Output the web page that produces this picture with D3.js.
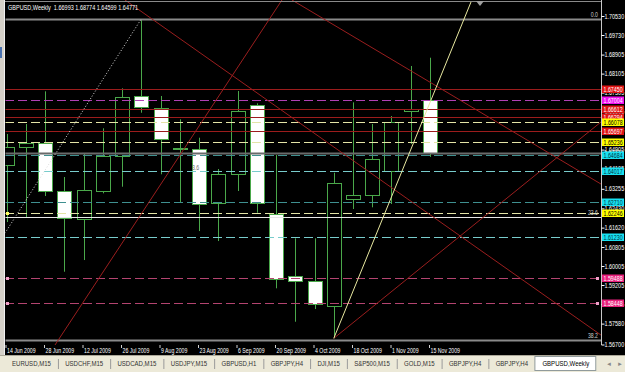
<!DOCTYPE html>
<html>
<head>
<meta charset="utf-8">
<script src="https://cdn.jsdelivr.net/npm/d3@7"></script>
<style>
html, body { margin: 0; padding: 0; background: #000; overflow: hidden; }
svg { display: block; }
text { font-family: "Liberation Sans", Arial, sans-serif; }
</style>
</head>
<body>
<script>
// weekly GBPUSD candles
const WEEKS = ["14 Jun 2009", "21 Jun 2009", "28 Jun 2009", "5 Jul 2009", "12 Jul 2009", "19 Jul 2009",
  "26 Jul 2009", "2 Aug 2009", "9 Aug 2009", "16 Aug 2009", "23 Aug 2009", "30 Aug 2009", "6 Sep 2009",
  "13 Sep 2009", "20 Sep 2009", "27 Sep 2009", "4 Oct 2009", "11 Oct 2009", "18 Oct 2009", "25 Oct 2009",
  "1 Nov 2009", "8 Nov 2009", "15 Nov 2009"];
const OPEN  = [1.64286, 1.65044, 1.65195, 1.63174, 1.61970, 1.63174, 1.64665, 1.67162, 1.66669, 1.64960, 1.64943, 1.62644,
  1.63865, 1.66770, 1.62193, 1.59595, 1.59372, 1.58319, 1.62825, 1.62981, 1.64016, 1.66559, 1.66993];
const HIGH  = [1.65562, 1.65983, 1.67359, 1.63751, 1.64749, 1.65802, 1.67486, 1.70404, 1.67162, 1.66181, 1.65406, 1.64088,
  1.67372, 1.66854, 1.64677, 1.61170, 1.61170, 1.63932, 1.66896, 1.65983, 1.66319, 1.68425, 1.68774];
const LOW   = [1.61856, 1.62037, 1.62951, 1.59764, 1.60256, 1.63065, 1.63343, 1.66458, 1.63865, 1.62669, 1.61477, 1.61056,
  1.63162, 1.62248, 1.59065, 1.57658, 1.58193, 1.56959, 1.62404, 1.62475, 1.62614, 1.65141, 1.64599];
const CLOSE = [1.65027, 1.65195, 1.63174, 1.62054, 1.63204, 1.64648, 1.67132, 1.66686, 1.65381, 1.64985, 1.62644, 1.63865,
  1.66517, 1.62644, 1.59444, 1.59385, 1.58391, 1.63486, 1.62993, 1.64496, 1.66067, 1.66627, 1.64771];

const PRICE_TICKS = [1.70530, 1.69730, 1.68905, 1.68105, 1.67305, 1.66505, 1.65705, 1.64905, 1.64105, 1.63255,
  1.62430, 1.61620, 1.60805, 1.60005, 1.59205, 1.58405, 1.57580, 1.56700];

// horizontal objects
const RED_LEVELS = [1.67450, 1.66612, 1.66294, 1.65697];
const MAGENTA_LEVELS = [1.67004];
const YELLOW_LEVELS = [1.66078, 1.65236, 1.62246];
const TEAL_LEVELS = [1.64684, 1.62710];
const CYAN_LEVELS = [1.64017, 1.61230];
const PINK_LEVELS = [1.59488, 1.58448];
const BID = 1.64771;

// fibonacci from the spring low to the august high
const FIB_HIGH = 1.70404, FIB_LOW = 1.35030;
const FIB_LEVELS = [0.0, 23.6, 38.2];

// trend lines: [bar index, price, bar index, price]
const RED_TRENDS = [
  [6.156, 1.71204, 30.88, 1.57098],
  [14.83, 1.71204, 30.88, 1.63456],
  [2.519, 1.56677, 14.31, 1.71204],
  [17, 1.56959, 30.88, 1.66067]
];
const YELLOW_TREND = [17, 1.56959, 24.13, 1.71119];
const FIB_TREND = [-1, 1.60214, 7, 1.70404];

const TABS = ["EURUSD,M15", "USDCHF,M15", "USDCAD,M15", "USDJPY,M15", "GBPUSD,H1", "GBPJPY,H4",
  "DJI,M15", "S&P500,M15", "GOLD,M15", "GBPJPY,H4", "GBPJPY,H4", "GBPUSD,Weekly"];

const W = 625, H = 372;
const PLOT_L = 5, PLOT_R = 601, PLOT_B = 345;
const SQUEEZE = 0.8;   // terminal font is narrower than anything installed

const svg = d3.select("body").append("svg").attr("width", W).attr("height", H);
svg.append("rect").attr("width", W).attr("height", H).attr("fill", "#000");

const x = d3.scaleLinear().domain([0, WEEKS.length - 1]).range([6.5, 430]);
const y = d3.scaleLinear().domain([1.56700, 1.70530]).range([344.5, 16]);
const py = p => Math.round(y(p)) + 0.5;

svg.append("clipPath").attr("id", "plot")
  .append("rect").attr("x", PLOT_L + 0.5).attr("y", 0).attr("width", PLOT_R - PLOT_L).attr("height", PLOT_B);
const plot = svg.append("g").attr("clip-path", "url(#plot)");

// candles
const candles = WEEKS.map((w, i) => ({i: i, o: OPEN[i], h: HIGH[i], l: LOW[i], c: CLOSE[i]}));
const GREEN = "#4aa84a";

plot.selectAll(".wick").data(candles).enter().append("line")
  .attr("x1", d => Math.round(x(d.i)) + 0.5).attr("x2", d => Math.round(x(d.i)) + 0.5)
  .attr("y1", d => y(d.h)).attr("y2", d => y(d.l))
  .attr("stroke", GREEN).attr("stroke-width", 1);

plot.selectAll(".body").data(candles).enter().append("rect")
  .attr("x", d => Math.round(x(d.i)) - 7 + 0.5)
  .attr("y", d => Math.round(y(Math.max(d.o, d.c))) + 0.5)
  .attr("width", 14)
  .attr("height", d => Math.max(1, Math.round(Math.abs(y(d.o) - y(d.c)))))
  .attr("fill", d => d.c >= d.o ? "#000" : "#fff")
  .attr("stroke", GREEN).attr("stroke-width", 1);

// horizontal lines
function hlines(levels, color, dash, width) {
  plot.selectAll(null).data(levels).enter().append("line")
    .attr("x1", PLOT_L).attr("x2", PLOT_R)
    .attr("y1", py).attr("y2", py)
    .attr("stroke", color).attr("stroke-width", width || 1)
    .attr("stroke-dasharray", dash);
}
hlines([BID], "#6a6a6a", null, 2);
hlines(RED_LEVELS, "#9c1c1c", null, 1);
hlines(MAGENTA_LEVELS, "#b040b4", "9,4");
hlines(YELLOW_LEVELS, "#e4e4a6", "9,4");
hlines(TEAL_LEVELS, "#3f9090", "9,4");
hlines(CYAN_LEVELS, "#78cccc", "9,4");
hlines(PINK_LEVELS, "#b44470", "9,4");

// fibonacci levels
const fibPrice = lv => FIB_HIGH - lv / 100 * (FIB_HIGH - FIB_LOW);
plot.selectAll(".fib").data(FIB_LEVELS).enter().append("line")
  .attr("x1", PLOT_L).attr("x2", PLOT_R)
  .attr("y1", d => py(fibPrice(d))).attr("y2", d => py(fibPrice(d)))
  .attr("stroke", d => d === 23.6 ? "#e8e8e8" : "#8a8a8a")
  .attr("stroke-width", d => d === 23.6 ? 1 : 2);
plot.selectAll(".fibtxt").data(FIB_LEVELS).enter().append("text")
  .attr("x", 598).attr("y", d => y(fibPrice(d)) - 2)
  .attr("text-anchor", "end").attr("font-size", 6.5).attr("fill", "#d0d0d0")
  .text(d => d.toFixed(1));

// trend lines
function tline(t, color, dash) {
  plot.append("line")
    .attr("x1", x(t[0])).attr("y1", y(t[1]))
    .attr("x2", x(t[2])).attr("y2", y(t[3]))
    .attr("stroke", color).attr("stroke-width", 1)
    .attr("stroke-dasharray", dash);
}
RED_TRENDS.forEach(t => tline(t, "#9a1e1e"));
tline(YELLOW_TREND, "#e8e8a0");
tline(FIB_TREND, "#dcdcdc", "1,2");

// selection anchors
plot.selectAll(".anc").data(PINK_LEVELS.concat(PINK_LEVELS)).enter().append("rect")
  .attr("x", (d, i) => i < PINK_LEVELS.length ? 6 : 596).attr("y", d => py(d) - 1.5)
  .attr("width", 3).attr("height", 3).attr("fill", "#f0a0c8");
plot.append("rect").attr("x", 6).attr("y", py(YELLOW_LEVELS[2]) - 1.5)
  .attr("width", 3).attr("height", 3).attr("fill", "#ffff60");

plot.append("text").attr("x", 192).attr("y", 170).attr("font-size", 6.5).attr("fill", "#707070").text("3.6");

// title
svg.append("text").attr("x", 8).attr("y", 9.5).attr("font-size", 6.9).attr("fill", "#fff")
  .attr("xml:space", "preserve")
  .text("GBPUSD,Weekly  " + [OPEN[22], HIGH[22], LOW[22], CLOSE[22]].map(d3.format(".5f")).join(" "));

// top line and shift marker
svg.append("line").attr("x1", PLOT_L).attr("x2", PLOT_R).attr("y1", 1.5).attr("y2", 1.5)
  .attr("stroke", "#8a8a8a").attr("stroke-width", 1);
svg.append("path").attr("d", "M476,1 L484,1 L480,6 Z").attr("fill", "#a0a0a0");

// price axis
svg.append("line").attr("x1", PLOT_R + 0.5).attr("x2", PLOT_R + 0.5).attr("y1", 0).attr("y2", PLOT_B)
  .attr("stroke", "#c8c8c8");
const yAxis = svg.append("g").attr("transform", `translate(${PLOT_R + 0.5},0)`)
  .call(d3.axisRight(y).tickValues(PRICE_TICKS).tickSize(3).tickFormat(d3.format(".5f")));
yAxis.select(".domain").remove();
yAxis.selectAll("line").attr("stroke", "#fff");
yAxis.selectAll("text").attr("fill", "#fff").attr("font-size", 6.8).attr("x", 3)
  .attr("font-family", '"Liberation Sans", Arial, sans-serif');

// bid label
svg.append("text").attr("x", 604).attr("y", y(BID) + 2.3).attr("font-size", 6.8).attr("fill", "#fff")
  .text(d3.format(".5f")(BID));

function tags(levels, bg, fg) {
  const g = svg.selectAll(null).data(levels).enter().append("g")
    .attr("transform", d => `translate(602,${Math.round(y(d))})`);
  g.append("rect").attr("x", 0).attr("y", -3.5).attr("width", 22).attr("height", 7.5).attr("fill", bg);
  g.append("text").attr("x", 1.5).attr("y", 2.6).attr("font-size", 6.6).attr("fill", fg)
    .text(d => d3.format(".5f")(d));
}
tags(RED_LEVELS.slice().reverse(), "#e01414", "#fff");
tags(MAGENTA_LEVELS, "#f010f0", "#fff");
tags(YELLOW_LEVELS, "#ffff00", "#000");
tags(TEAL_LEVELS.concat(CYAN_LEVELS), "#18e0f0", "#003040");
tags(PINK_LEVELS, "#e8207c", "#fff");

// time axis
const xAxis = svg.append("g").attr("transform", `translate(0,${PLOT_B})`)
  .call(d3.axisBottom(x).tickValues(WEEKS.map((w, i) => i).filter(i => i % 2 === 0))
    .tickSize(3).tickFormat(i => WEEKS[i]));
xAxis.select(".domain").remove();
xAxis.selectAll("line").attr("stroke", "#d0d0d0").attr("transform", "translate(-1,0)");
xAxis.selectAll("text").attr("fill", "#fff").attr("font-size", 6.5).attr("text-anchor", "start")
  .attr("x", 0).attr("y", 3).attr("dy", "0.71em")
  .attr("font-family", '"Liberation Sans", Arial, sans-serif');

// squeeze every label so it matches the narrow terminal font
svg.selectAll("text").each(function () {
  const w = this.getComputedTextLength();
  this.setAttribute("textLength", w * SQUEEZE);
  this.setAttribute("lengthAdjust", "spacingAndGlyphs");
});

// window frame left
svg.append("rect").attr("x", 0).attr("y", 0).attr("width", 4).attr("height", 356).attr("fill", "#d4d0c8");
svg.append("rect").attr("x", 0).attr("y", 47).attr("width", 2).attr("height", 11).attr("fill", "#4a72b0");
svg.append("line").attr("x1", 4.5).attr("x2", 4.5).attr("y1", 0).attr("y2", 356).attr("stroke", "#f0f0f0");

// tab bar
svg.append("rect").attr("x", 0).attr("y", 355).attr("width", W).attr("height", 17).attr("fill", "#ece9d8");
svg.append("line").attr("x1", 0).attr("x2", W).attr("y1", 355.5).attr("y2", 355.5).attr("stroke", "#aca899");
const tabs = svg.append("g");
let tx = 12;
TABS.forEach((name, i) => {
  const active = i === TABS.length - 1;
  const t = tabs.append("text").attr("x", tx).attr("y", 365.5).attr("font-size", 7.55)
    .attr("fill", active ? "#000" : "#333").text(name);
  const w = t.node().getComputedTextLength() * SQUEEZE;
  t.attr("textLength", w).attr("lengthAdjust", "spacingAndGlyphs");
  if (active) {
    tabs.insert("rect", "text").attr("x", tx - 7.5).attr("y", 356.5).attr("width", w + 14).attr("height", 14)
      .attr("fill", "#fff").attr("stroke", "#919b9c");
  } else if (i < TABS.length - 2) {
    tabs.append("line").attr("x1", tx + w + 7.5).attr("x2", tx + w + 7.5).attr("y1", 359).attr("y2", 369)
      .attr("stroke", "#9a9a9a");
  }
  tx += w + 14.3;
});
svg.append("text").attr("x", 606).attr("y", 365.5).attr("font-size", 6).attr("fill", "#888").text("\u25C4");
svg.append("text").attr("x", 617).attr("y", 365.5).attr("font-size", 6).attr("fill", "#888").text("\u25BA");
</script>
</body>
</html>
